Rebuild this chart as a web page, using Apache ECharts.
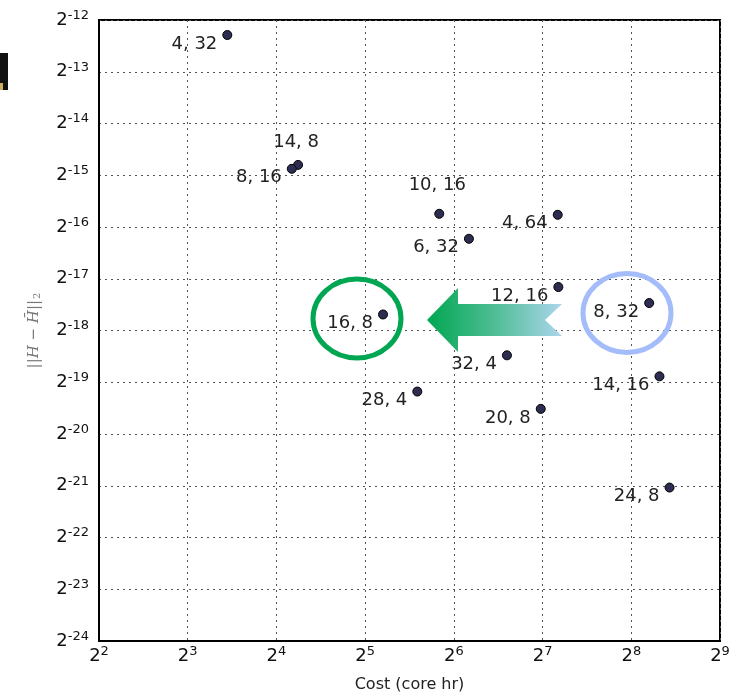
<!DOCTYPE html>
<html>
<head>
<meta charset="utf-8">
<script src="https://cdn.jsdelivr.net/npm/echarts@6/dist/echarts.min.js"></script>
<style>
html,body{margin:0;padding:0;background:#fff;}
#chart{width:733px;height:694px;}
</style>
</head>
<body>
<div id="chart"></div>
<script>
// configuration labels (cores, threads)
const pointLabels = ['4, 32','14, 8','8, 16','10, 16','4, 64','6, 32','12, 16','8, 32','16, 8','32, 4','14, 16','28, 4','20, 8','24, 8'];
// cost in core hours
const costValues = [10.9, 18.95, 18.04, 57.1, 144.1, 72.0, 144.8, 294.4, 36.8, 96.9, 319.1, 48.1, 126.2, 345.2];
// error norm ||H - H̄||_2
const errorValues = [1.997e-4, 3.506e-5, 3.326e-5, 1.821e-5, 1.797e-5, 1.3027e-5, 6.828e-6, 5.510e-6, 4.729e-6, 2.735e-6, 2.064e-6, 1.684e-6, 1.3348e-6, 4.654e-7];
// tick exponents (base 2)
const xTickExponents = [2, 3, 4, 5, 6, 7, 8, 9];
const yTickExponents = [-24, -23, -22, -21, -20, -19, -18, -17, -16, -15, -14, -13, -12];

const labelAbove = {'14, 8': 9, '10, 16': 14};

const chart = echarts.init(document.getElementById('chart'), null, {renderer: 'canvas'});

function powLabel(v) {
  const e = Math.round(Math.log2(v));
  return '{b|2}{s|' + e + '}';
}
const tickRich = {
  b: {fontSize: 18, fontFamily: 'DejaVu Sans', color: '#111', lineHeight: 22},
  s: {fontSize: 13, fontFamily: 'DejaVu Sans', color: '#111', verticalAlign: 'top', lineHeight: 13, padding: [0, 0, 8, 0]}
};

const data = costValues.map((c, i) => {
  const name = pointLabels[i];
  const d = {value: [c, errorValues[i]], name: name};
  if (labelAbove[name] !== undefined) {
    d.label = {position: 'top', distance: labelAbove[name], offset: [-2, 0]};
  }
  return d;
});

chart.setOption({
  backgroundColor: '#fff',
  animation: false,
  grid: {left: 99, right: 13, top: 20, bottom: 53, show: true, borderColor: '#000', borderWidth: 2, backgroundColor: 'transparent', outerBoundsMode: 'none', containLabel: false},
  xAxis: {
    type: 'log', logBase: 2,
    min: Math.pow(2, xTickExponents[0]), max: Math.pow(2, xTickExponents[xTickExponents.length - 1]),
    interval: 1,
    name: 'Cost (core hr)', nameLocation: 'middle', nameGap: 36,
    nameTextStyle: {fontSize: 16, fontFamily: 'DejaVu Sans', color: '#222'},
    axisLine: {show: true, lineStyle: {color: '#000', width: 2}},
    axisTick: {show: false},
    axisLabel: {formatter: powLabel, rich: tickRich, margin: 4},
    splitLine: {show: true, lineStyle: {color: '#555', type: [2, 4], width: 1}}
  },
  yAxis: {
    type: 'log', logBase: 2,
    min: Math.pow(2, yTickExponents[0]), max: Math.pow(2, yTickExponents[yTickExponents.length - 1]),
    interval: 1,
    name: '{n|||}{i|H}{n| − }{i|H̄}{n|||}{s|2}', nameLocation: 'middle', nameGap: 57, nameRotate: 90,
    nameTextStyle: {
      color: '#777',
      rich: {
        n: {fontSize: 15, fontFamily: 'DejaVu Serif', color: '#777'},
        i: {fontSize: 15, fontFamily: 'DejaVu Serif', fontStyle: 'italic', color: '#777'},
        s: {fontSize: 10, fontFamily: 'DejaVu Serif', color: '#777', verticalAlign: 'bottom', padding: [6, 0, 0, 1]}
      }
    },
    axisLine: {show: true, lineStyle: {color: '#000', width: 2}},
    axisTick: {show: false},
    axisLabel: {formatter: powLabel, rich: tickRich, margin: 10},
    splitLine: {show: true, lineStyle: {color: '#555', type: [2, 4], width: 1}}
  },
  series: [{
    type: 'scatter',
    data: data,
    symbol: 'circle',
    symbolSize: 9,
    itemStyle: {color: '#2d2d52', borderColor: '#000', borderWidth: 1, opacity: 1},
    label: {
      show: true, position: 'left', distance: 5, offset: [0, 9],
      formatter: p => p.name,
      fontSize: 18, fontFamily: 'DejaVu Sans', color: '#222'
    },
    z: 5
  }],
  graphic: [
    {type: 'rect', shape: {x: 0, y: 53, width: 8, height: 37}, style: {fill: '#111'}, z: 1},
    {type: 'rect', shape: {x: 0, y: 83, width: 3, height: 7}, style: {fill: '#c9b060'}, z: 2},
    {type: 'ellipse', shape: {cx: 357, cy: 318.5, rx: 44, ry: 39.5}, style: {fill: 'none', stroke: '#00a651', lineWidth: 5}, z: 10},
    {type: 'ellipse', shape: {cx: 627, cy: 313, rx: 44, ry: 39.5}, style: {fill: 'none', stroke: '#a4bdfa', lineWidth: 5}, z: 10},
    {type: 'polygon', shape: {points: [[427, 320], [458, 288], [458, 304], [562, 304], [545, 320], [562, 336], [458, 336], [458, 352]]},
     style: {fill: new echarts.graphic.LinearGradient(0, 0, 1, 0, [{offset: 0, color: '#00a651'}, {offset: 0.5, color: '#4fbd94'}, {offset: 1, color: '#acd6ee'}])}, z: 10}
  ]
});
</script>
</body>
</html>
